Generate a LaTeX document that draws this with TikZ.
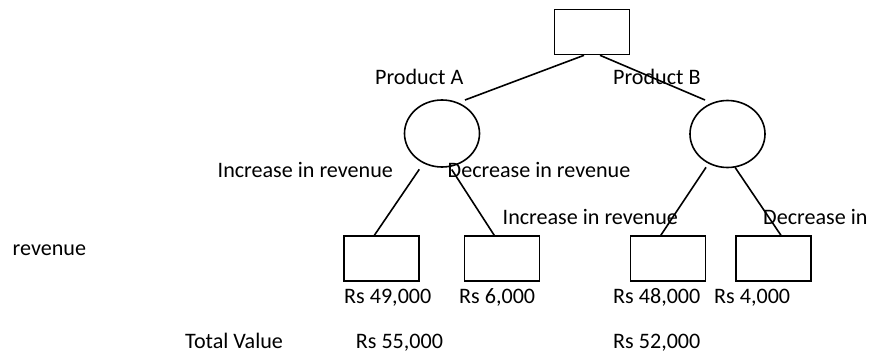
\documentclass[tikz,border=0pt]{standalone}
\usepackage{fontspec}
\setmainfont{Carlito}
\usetikzlibrary{shapes.geometric,calc}
\begin{document}
\begin{tikzpicture}[x=1pt,y=-1pt,
  box/.style={draw,line width=1.6pt,minimum width=75pt,minimum height=45pt,inner sep=0pt},
  chance/.style={draw,ellipse,line width=1.6pt,minimum width=75pt,minimum height=67pt,inner sep=0pt},
  lbl/.style={anchor=base west,inner sep=0pt,font=\fontsize{22.1}{26}\selectfont},
  edge/.style={line width=1.6pt}]
\useasboundingbox (0,0) rectangle (873,356);
% decision and chance nodes
\node[box] (top) at (592,32) {};
\node[chance] (cA) at (442,133.5) {};
\node[chance] (cB) at (727.5,134) {};
\node[box] (b1) at (381.3,258.7) {};
\node[box] (b2) at (502,258.7) {};
\node[box] (b3) at (668,258.7) {};
\node[box] (b4) at (773.3,258.7) {};
% connector end points
\coordinate (tL) at ($(top.south)+(-8,0)$);
\coordinate (tR) at ($(top.south)+(8,0)$);
\coordinate (aT) at ($(cA.center)+(23,-33.5)$);
\coordinate (bT) at ($(cB.center)+(-22.5,-34)$);
\coordinate (aL) at ($(cA.center)+(-22.7,35.8)$);
\coordinate (aR) at ($(cA.center)+(9.7,36)$);
\coordinate (bL) at ($(cB.center)+(-21.5,33.3)$);
\coordinate (bR) at ($(cB.center)+(7.5,33.3)$);
\coordinate (b1t) at ($(b1.north)+(-7,0)$);
\coordinate (b2t) at ($(b2.north)+(-7.7,0)$);
\coordinate (b3t) at ($(b3.north)+(-7.3,0)$);
\coordinate (b4t) at ($(b4.north)+(7.7,0)$);
% connectors
\draw[edge] (tL) -- (aT);
\draw[edge] (tR) -- (bT);
\draw[edge] (aL) -- (b1t);
\draw[edge] (aR) -- (b2t);
\draw[edge] (bL) -- (b3t);
\draw[edge] (bR) -- (b4t);
% labels
\node[lbl] (pA) at (375,84) {Product A};
\node[lbl] (pB) at (613,84) {Product B};
\node[lbl] (iA) at (217.5,177) {Increase in revenue};
\node[lbl] (dA) at (447.5,177) {Decrease in revenue};
\node[lbl] (iB) at (502.5,224.5) {Increase in revenue};
\node[lbl] (dB) at (763,224.5) {Decrease in};
\node[lbl] (dB2) at (12.5,255.7) {revenue};
\node[lbl] (v1) at (344,303) {Rs 49,000};
\node[lbl] (v2) at (459,303) {Rs 6,000};
\node[lbl] (v3) at (613,303) {Rs 48,000};
\node[lbl] (v4) at (714,303) {Rs 4,000};
\node[lbl] (tv) at (185,348.5) {Total Value};
\node[lbl] (tA) at (355.7,348.5) {Rs 55,000};
\node[lbl] (tB) at (613,348.5) {Rs 52,000};
\end{tikzpicture}
\end{document}
